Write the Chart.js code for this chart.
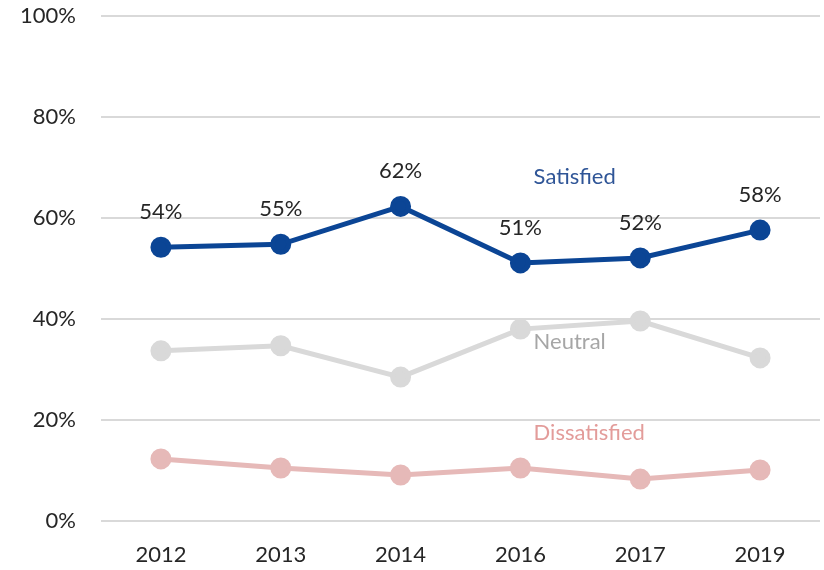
<!DOCTYPE html>
<html>
<head>
<meta charset="utf-8">
<script src="https://cdn.jsdelivr.net/npm/chart.js@4/dist/chart.umd.min.js"></script>
<style>
  html, body { margin: 0; padding: 0; background: #fff; }
  #wrap { width: 824px; height: 570px; }
</style>
</head>
<body>
<div id="wrap"><canvas id="myChart" width="824" height="570"></canvas></div>
<script>
// survey years and shares (%)
var years = ['2012', '2013', '2014', '2016', '2017', '2019'];
var satisfied = [54.2, 54.8, 62.3, 51.1, 52.1, 57.6];
var neutral = [33.7, 34.7, 28.5, 38.0, 39.6, 32.3];
var dissatisfied = [12.3, 10.5, 9.1, 10.5, 8.3, 10.1];
var yTicks = [0, 20, 40, 60, 80, 100];

var FONT = 'Lato, "Open Sans", sans-serif';

// series names written inside the plot, next to the lines
var seriesNames = [
    { text: 'Satisfied', x: 3.11, y: 68.1, color: '#2F5597' },
    { text: 'Neutral', x: 3.11, y: 35.4, color: '#A6A6A6' },
    { text: 'Dissatisfied', x: 3.11, y: 17.5, color: '#E39C9A' }
];

var labelPlugin = {
    id: 'labels',
    afterDatasetsDraw: function (chart) {
        var ctx = chart.ctx;
        var xs = chart.scales.x, ys = chart.scales.y;
        ctx.save();
        ctx.font = '22px ' + FONT;
        ctx.textBaseline = 'middle';
        // value labels above the Satisfied points
        ctx.fillStyle = '#262626';
        ctx.textAlign = 'center';
        var meta = chart.getDatasetMeta(0);
        meta.data.forEach(function (pt, i) {
            ctx.fillText(Math.round(satisfied[i]) + '%', pt.x, pt.y - 35);
        });
        ctx.textAlign = 'left';
        seriesNames.forEach(function (s) {
            ctx.fillStyle = s.color;
            ctx.fillText(s.text, xs.getPixelForValue(s.x), ys.getPixelForValue(s.y));
        });
        ctx.restore();
    }
};

var ctx = document.getElementById('myChart').getContext('2d');
var myChart = new Chart(ctx, {
    type: 'line',
    data: {
        labels: years,
        datasets: [{
            label: 'Satisfied',
            data: satisfied,
            borderColor: '#0B4595',
            backgroundColor: '#0B4595',
            borderWidth: 5,
            pointRadius: 8,
            pointHoverRadius: 8
        }, {
            label: 'Neutral',
            data: neutral,
            borderColor: '#D9D9D9',
            backgroundColor: '#D9D9D9',
            borderWidth: 5,
            pointRadius: 8,
            pointHoverRadius: 8
        }, {
            label: 'Dissatisfied',
            data: dissatisfied,
            borderColor: '#E6B9B8',
            backgroundColor: '#E6B9B8',
            borderWidth: 5,
            pointRadius: 8,
            pointHoverRadius: 8
        }]
    },
    options: {
        responsive: false,
        animation: false,
        devicePixelRatio: 1,
        layout: { autoPadding: false, padding: { top: 16, right: 4, left: 0, bottom: 0 } },
        plugins: {
            legend: { display: false },
            tooltip: { enabled: false }
        },
        scales: {
            x: {
                offset: true,
                grid: { display: false, drawTicks: false },
                border: { display: false },
                afterFit: function (axis) {
                    axis.height = 49;
                    axis.paddingLeft = 0;
                    axis.paddingRight = 0;
                },
                ticks: { color: '#262626', font: { size: 22, family: FONT }, padding: 21 }
            },
            y: {
                min: 0,
                max: 100,
                afterBuildTicks: function (axis) {
                    axis.ticks = yTicks.map(function (v) { return { value: v }; });
                },
                afterFit: function (axis) {
                    axis.width = 101;
                    axis.paddingTop = 0;
                    axis.paddingBottom = 0;
                },
                grid: { color: '#D9D9D9', lineWidth: 2, drawTicks: false },
                border: { display: false },
                ticks: {
                    color: '#262626',
                    font: { size: 22, family: FONT },
                    padding: 25,
                    callback: function (v) { return v + '%'; }
                }
            }
        }
    },
    plugins: [labelPlugin]
});
</script>
</body>
</html>
